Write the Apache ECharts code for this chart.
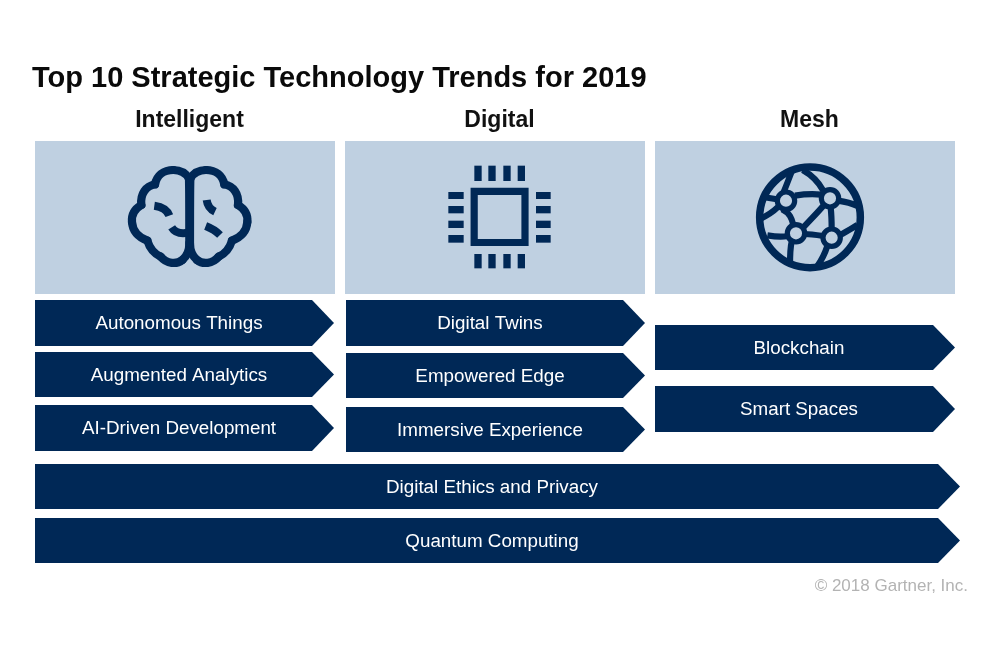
<!DOCTYPE html>
<html>
<head>
<meta charset="UTF-8">
<title>trends</title>
<script src="https://cdn.jsdelivr.net/npm/echarts@6/dist/echarts.min.js"></script>
<style>
	html, body { margin:0; padding:0; background:#fff; }
	#chart { width:1000px; height:650px; }
</style>
</head>
<body>
	<div id="chart"></div>

	<script type="text/javascript">
		// text of the chart
		var chartTitle = 'Top 10 Strategic Technology Trends for 2019';
		var columns = ['Intelligent', 'Digital', 'Mesh'];
		var intelligentTrends = ['Autonomous Things', 'Augmented Analytics', 'AI-Driven Development'];
		var digitalTrends = ['Digital Twins', 'Empowered Edge', 'Immersive Experience'];
		var meshTrends = ['Blockchain', 'Smart Spaces'];
		var sharedTrends = ['Digital Ethics and Privacy', 'Quantum Computing'];
		var footer = '\u00a9 2018 Gartner, Inc.';

		// layout, in page pixels
		var NAVY = '#002856';
		var PALE = '#bfd0e1';
		var panelBoxes = [[35, 141, 335, 294], [345, 141, 645, 294], [655, 141, 955, 294]];
		var headerX = [189.5, 499.5, 809.5];
		var arrowRows = [
			{labels: intelligentTrends, x0: 35, x1: 334, textX: 179, rows: [[300, 346], [352, 397], [405, 451]]},
			{labels: digitalTrends, x0: 346, x1: 645, textX: 490, rows: [[300, 346], [353, 398], [407, 452]]},
			{labels: meshTrends, x0: 655, x1: 955, textX: 799, rows: [[325, 370], [386, 432]]},
			{labels: sharedTrends, x0: 35, x1: 960, textX: 492, rows: [[464, 509], [518, 563]]}
		];

		// icon drawing, in 3x units from the top left of each icon box
		var chipOrigin = [430, 150];
		var chipPins = [
			[133, 47, 155, 93], [175, 47, 197, 93], [220, 47, 242, 93], [263, 47, 285, 93],
			[133, 312, 155, 355], [175, 312, 197, 355], [220, 312, 242, 355], [263, 312, 285, 355],
			[55, 126, 101, 147], [55, 168, 101, 190], [55, 212, 101, 234], [55, 255, 101, 278],
			[318, 126, 362, 147], [318, 168, 362, 190], [318, 212, 362, 234], [318, 255, 362, 278]
		];
		var chipFrame = [132.5, 124, 285, 277.5];

		var brainOrigin = [110, 150];
		var brainMirror = 478;
		var brainOutline = [
			[237, 86, 226, 66, 208, 60, 190, 60],
			[190, 60, 160, 60, 140, 78, 135, 103],
			[135, 103, 108, 108, 90, 132, 94, 165],
			[94, 165, 72, 178, 64, 196, 66, 216],
			[66, 216, 68, 245, 86, 262, 112, 272],
			[112, 272, 120, 298, 134, 312, 152, 320],
			[152, 320, 170, 342, 200, 344, 217, 330],
			[217, 330, 232, 318, 238, 302, 238, 280],
			[238, 280, 238, 240, 238, 130, 237, 86]
		];
		var brainFolds = [
			[133, 167, 155, 170, 172, 180, 178, 197],
			[185, 232, 195, 248, 215, 252, 235, 248],
			[290, 150, 292, 165, 300, 178, 315, 185],
			[287, 228, 305, 235, 320, 245, 330, 255]
		];

		var globeOrigin = [740, 150];
		var globeRing = [210, 202, 151];
		var globeNodes = [[138, 152], [270, 145], [168, 250], [275, 263]];
		var globeLinks = [
			[165, 137, 190, 133, 215, 131, 244, 134],
			[126, 178, 150, 190, 155, 205, 160, 224],
			[250, 167, 235, 185, 215, 205, 190, 232],
			[272, 172, 274, 190, 275, 215, 275, 238],
			[194, 252, 210, 252, 230, 255, 250, 258],
			[130, 128, 138, 110, 145, 90, 155, 65],
			[112, 148, 95, 145, 80, 143, 68, 140],
			[115, 170, 100, 185, 80, 198, 58, 208],
			[143, 258, 125, 262, 105, 260, 82, 256],
			[155, 275, 150, 295, 150, 320, 150, 348],
			[262, 288, 255, 310, 245, 330, 232, 348],
			[300, 255, 320, 245, 335, 235, 352, 225],
			[294, 152, 315, 155, 335, 160, 352, 168],
			[250, 122, 235, 95, 215, 75, 188, 60]
		];

		function toPage(origin, x, y){
			return [origin[0] + x / 3, origin[1] + y / 3];
		}

		function curveEl(api, origin, c, width, cap){
			var p1 = api.coord(toPage(origin, c[0], c[1]));
			var a = api.coord(toPage(origin, c[2], c[3]));
			var b = api.coord(toPage(origin, c[4], c[5]));
			var p2 = api.coord(toPage(origin, c[6], c[7]));
			return {
				type: 'bezierCurve',
				shape: {x1: p1[0], y1: p1[1], cpx1: a[0], cpy1: a[1], cpx2: b[0], cpy2: b[1], x2: p2[0], y2: p2[1]},
				style: {fill: null, stroke: NAVY, lineWidth: width, lineCap: cap}
			};
		}

		function mirrored(c){
			return [brainMirror - c[0], c[1], brainMirror - c[2], c[3], brainMirror - c[4], c[5], brainMirror - c[6], c[7]];
		}

		function rectEl(api, box, fill){
			var a = api.coord([box[0], box[1]]);
			var b = api.coord([box[2], box[3]]);
			return {
				type: 'rect',
				shape: {x: a[0], y: a[1], width: b[0] - a[0], height: b[1] - a[1]},
				style: {fill: fill}
			};
		}

		function renderPanel(params, api){
			return rectEl(api, panelBoxes[params.dataIndex], PALE);
		}

		function renderHeader(params, api){
			var p = api.coord([headerX[params.dataIndex], 120.5]);
			return {
				type: 'text',
				style: {
					text: columns[params.dataIndex], x: p[0], y: p[1], fill: '#111',
					font: 'bold 23px "Liberation Sans", Arial, sans-serif',
					align: 'center', verticalAlign: 'middle'
				}
			};
		}

		function arrowItems(){
			var items = [];
			arrowRows.forEach(function(group){
				group.rows.forEach(function(row, i){
					items.push({name: group.labels[i], group: group, top: row[0], bottom: row[1]});
				});
			});
			return items;
		}
		var arrows = arrowItems();

		function renderArrow(params, api){
			var a = arrows[params.dataIndex];
			var neck = a.group.x1 - 22;
			var points = [
				api.coord([a.group.x0, a.top]),
				api.coord([neck, a.top]),
				api.coord([a.group.x1, (a.top + a.bottom) / 2]),
				api.coord([neck, a.bottom]),
				api.coord([a.group.x0, a.bottom])
			];
			var c = api.coord([a.group.textX, (a.top + a.bottom) / 2 + 1]);
			return {
				type: 'group',
				children: [
					{type: 'polygon', shape: {points: points}, style: {fill: NAVY}},
					{
						type: 'text',
						style: {
							text: a.name, x: c[0], y: c[1], fill: '#fff',
							font: '18.8px "Liberation Sans", Arial, sans-serif',
							align: 'center', verticalAlign: 'middle'
						}
					}
				]
			};
		}

		function renderIcons(params, api){
			var children = [];

			// chip
			chipPins.forEach(function(pin){
				var a = toPage(chipOrigin, pin[0], pin[1]);
				var b = toPage(chipOrigin, pin[2], pin[3]);
				children.push(rectEl(api, [a[0], a[1], b[0], b[1]], NAVY));
			});
			var fa = api.coord(toPage(chipOrigin, chipFrame[0], chipFrame[1]));
			var fb = api.coord(toPage(chipOrigin, chipFrame[2], chipFrame[3]));
			children.push({
				type: 'rect',
				shape: {x: fa[0], y: fa[1], width: fb[0] - fa[0], height: fb[1] - fa[1]},
				style: {fill: null, stroke: NAVY, lineWidth: 7.2}
			});

			// brain
			brainOutline.forEach(function(c){
				children.push(curveEl(api, brainOrigin, c, 8.2, 'round'));
				children.push(curveEl(api, brainOrigin, mirrored(c), 8.2, 'round'));
			});
			brainFolds.forEach(function(c){
				children.push(curveEl(api, brainOrigin, c, 8, 'butt'));
			});

			// globe
			var gc = api.coord(toPage(globeOrigin, globeRing[0], globeRing[1]));
			children.push({
				type: 'circle',
				shape: {cx: gc[0], cy: gc[1], r: globeRing[2] / 3},
				style: {fill: null, stroke: NAVY, lineWidth: 7.5}
			});
			globeLinks.forEach(function(c){
				children.push(curveEl(api, globeOrigin, c, 6.2, 'butt'));
			});
			globeNodes.forEach(function(n){
				var p = api.coord(toPage(globeOrigin, n[0], n[1]));
				children.push({
					type: 'circle',
					shape: {cx: p[0], cy: p[1], r: 26 / 3},
					style: {fill: PALE, stroke: NAVY, lineWidth: 5.2}
				});
			});

			return {type: 'group', children: children};
		}

		var myChart = echarts.init(document.getElementById('chart'), null, {renderer: 'canvas'});

		var option = {
			backgroundColor: '#fff',
			animation: false,
			title: [
				{
					text: chartTitle, left: 27, top: 59,
					textStyle: {fontFamily: '"Liberation Sans", Arial, sans-serif', fontSize: 29, fontWeight: 'bold', color: '#0a0a0a'}
				},
				{
					text: footer, right: 27, top: 573,
					textStyle: {fontFamily: '"Liberation Sans", Arial, sans-serif', fontSize: 17, fontWeight: 'normal', color: '#b3b3b3'}
				}
			],
			grid: {left: 0, right: 0, top: 0, bottom: 0},
			xAxis: {type: 'value', min: 0, max: 1000, show: false},
			yAxis: {type: 'value', min: 0, max: 650, inverse: true, show: false},
			series: [
				{type: 'custom', silent: true, clip: false, renderItem: renderPanel, data: columns},
				{type: 'custom', silent: true, clip: false, renderItem: renderHeader, data: columns},
				{type: 'custom', silent: true, clip: false, renderItem: renderArrow, data: arrows.map(function(a){ return a.name; })},
				{type: 'custom', silent: true, clip: false, renderItem: renderIcons, data: [0]}
			]
		};

		myChart.setOption(option);
	</script>
</body>
</html>
